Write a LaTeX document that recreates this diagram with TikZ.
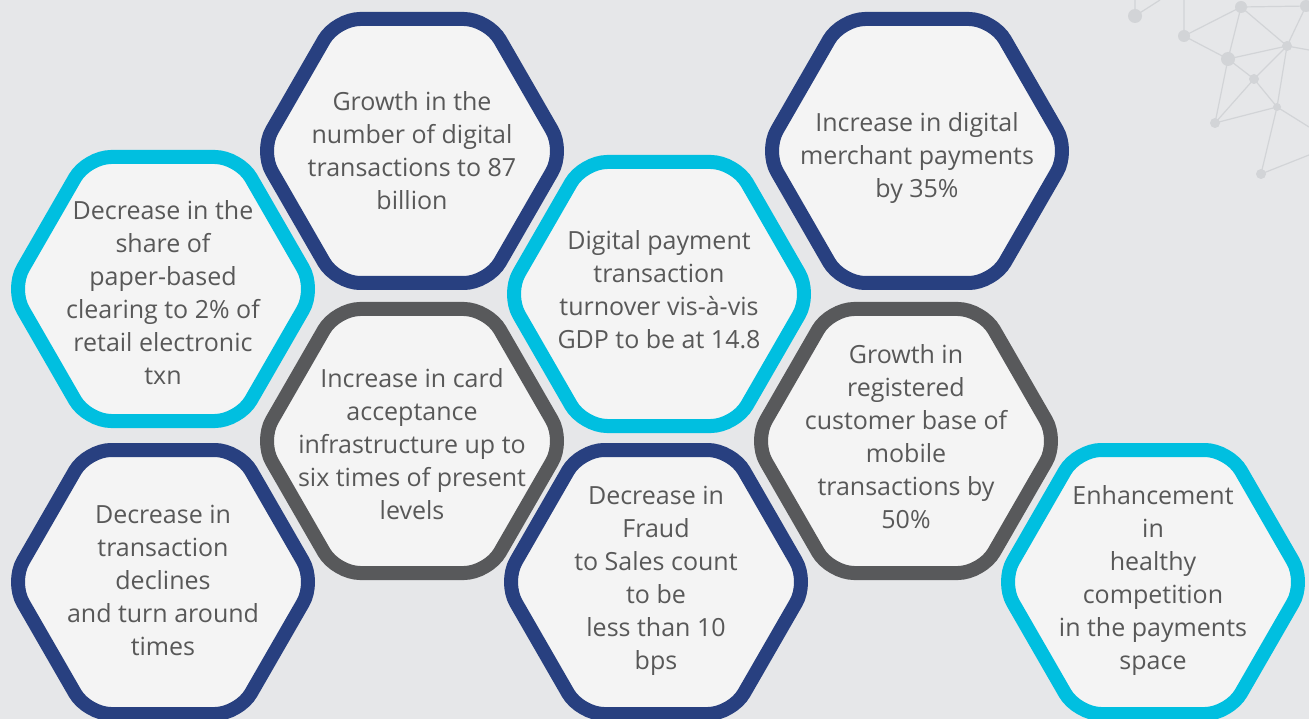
\documentclass[tikz,border=0pt]{standalone}
\usepackage{fontspec}
\setmainfont{Open Sans}
\usepackage{tikz}

\definecolor{pagebg}{HTML}{E6E7E9}
\definecolor{hexfill}{HTML}{F4F4F4}
\definecolor{navyline}{HTML}{284080}
\definecolor{cyanline}{HTML}{00BFE0}
\definecolor{grayline}{HTML}{58595B}
\definecolor{txtgray}{HTML}{585858}
\definecolor{netline}{HTML}{D2D4D7}

\begin{document}
\begin{tikzpicture}[x=1pt, y=-1pt,
    hexa/.pic = {
      \path[pic actions, rounded corners=24pt]
        (152,0) -- (76,132) -- (-76,132) -- (-152,0)
        -- (-76,-132) -- (76,-132) -- cycle;},
    hexnavy/.style = {draw=navyline, fill=hexfill, line width=14pt},
    hexcyan/.style = {draw=cyanline, fill=hexfill, line width=14pt},
    hexgray/.style = {draw=grayline, fill=hexfill, line width=14pt},
    goal/.style = {align=center, text=txtgray, inner sep=0pt,
      font=\fontsize{25}{33}\selectfont}]

  % page
  \fill[pagebg] (0,0) rectangle (1309,719);
  \useasboundingbox (0,0) rectangle (1309,719);

  % network corner
  \draw[netline, line width=1.2pt]
    (1184,0) -- (1184,36) -- (1241,7) -- (1309,6)
    (1184,36) -- (1228,59) -- (1241,7) -- (1287,46) -- (1309,50)
    (1228,59) -- (1287,46) -- (1254,79) -- (1228,59) -- (1215,123)
    -- (1254,79) -- (1277,107) -- (1287,46) -- (1306,6)
    (1215,123) -- (1277,107) -- (1309,127)
    (1277,107) -- (1261,174) -- (1309,155)
    (1135,0) -- (1135,16) -- (1160,0);
  \foreach \px/\py/\r in {1135/16/7, 1184/36/6, 1241/7/6, 1306/6/6, 1228/59/7,
      1287/46/5, 1254/79/5, 1277/107/4, 1215/123/5, 1261/174/5}
    \fill[netline] (\px,\py) circle (\r);

  % hexagons
  \pic[hexnavy] at (412,151) {hexa};
  \pic[hexcyan] at (163,289) {hexa};
  \pic[hexnavy] at (163,582) {hexa};
  \pic[hexgray] at (412,441) {hexa};
  \pic[hexcyan] at (659,294) {hexa};
  \pic[hexnavy] at (656,582) {hexa};
  \pic[hexnavy] at (917,151) {hexa};
  \pic[hexgray] at (906,441) {hexa};
  \pic[hexcyan] at (1153,582) {hexa};

  % texts
  \node[goal] (growth) at (412,151)
    {Growth in the\\number of digital\\transactions to 87\\billion};
  \node[goal] (paper) at (163,293)
    {Decrease in the\\share of\\paper-based\\clearing to 2\% of\\retail electronic\\txn};
  \node[goal] (declines) at (163,580)
    {Decrease in\\transaction\\declines\\and turn around\\times};
  \node[goal] (card) at (412,444)
    {Increase in card\\acceptance\\infrastructure up to\\six times of present\\levels};
  \node[goal] (turnover) at (659,290)
    {Digital payment\\transaction\\turnover vis-à-vis\\GDP to be at 14.8};
  \node[goal] (fraud) at (656,581)
    {Decrease in\\Fraud\\to Sales count\\to be\\less than 10\\bps};
  \node[goal] (merchant) at (917,158)
    {Increase in digital\\merchant payments\\by 35\%};
  \node[goal] (mobile) at (906,437)
    {Growth in\\registered\\customer base of\\mobile\\transactions by\\50\%};
  \node[goal] (competition) at (1153,581)
    {Enhancement\\in\\healthy\\competition\\in the payments\\space};
\end{tikzpicture}
\end{document}
